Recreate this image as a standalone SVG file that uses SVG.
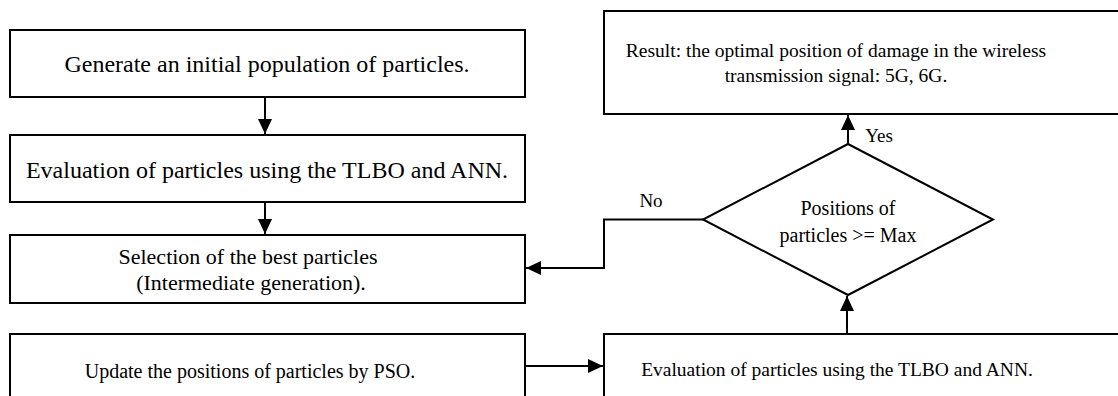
<svg xmlns="http://www.w3.org/2000/svg" width="1118" height="396" viewBox="0 0 1118 396">
<style>
.box{fill:#fff;stroke:#000;stroke-width:2}
.t{font-family:"Liberation Serif","Times New Roman",serif;fill:#000;text-anchor:middle}
.c{fill:none;stroke:#000;stroke-width:2}
</style>
<defs>
<marker id="ah" viewBox="0 0 15 14" refX="15" refY="7" markerWidth="15" markerHeight="14" markerUnits="userSpaceOnUse" orient="auto">
<path d="M0,0 L15,7 L0,14 z" fill="#000"/>
</marker>
</defs>
<rect width="1118" height="396" fill="#fff"/>
<g id="n1"><rect class="box" x="10" y="30" width="515" height="67"/><text class="t" x="267" y="72" font-size="24">Generate an initial population of particles.</text></g>
<g id="n2"><rect class="box" x="10" y="135" width="515" height="67"/><text class="t" x="267" y="178" font-size="24">Evaluation of particles using the TLBO and ANN.</text></g>
<g id="n3"><rect class="box" x="10" y="235" width="515" height="68"/><text class="t" x="248" y="264" font-size="22">Selection of the best particles</text><text class="t" x="251" y="290" font-size="22">(Intermediate generation).</text></g>
<g id="n4"><rect class="box" x="10" y="334" width="515" height="80"/><text class="t" x="250" y="378" font-size="20">Update the positions of particles by PSO.</text></g>
<g id="n5"><rect class="box" x="604" y="334" width="530" height="80"/><text class="t" x="837" y="376" font-size="19.5">Evaluation of particles using the TLBO and ANN.</text></g>
<g id="n6"><rect class="box" x="604" y="11" width="530" height="103"/><text class="t" x="836" y="57" font-size="19.5">Result: the optimal position of damage in the wireless</text><text class="t" x="836" y="82" font-size="19.5">transmission signal: 5G, 6G.</text></g>
<g id="n7"><polygon class="box" points="848,144 993,219.5 848,295 703,219.5"/><text class="t" x="848" y="215" font-size="20">Positions of</text><text class="t" x="848" y="242" font-size="20">particles &gt;= Max</text></g>
<g id="connectors">
<line class="c" x1="265" y1="97" x2="265" y2="134" marker-end="url(#ah)"/>
<line class="c" x1="265" y1="202" x2="265" y2="234" marker-end="url(#ah)"/>
<line class="c" x1="525" y1="366" x2="603" y2="366" marker-end="url(#ah)"/>
<line class="c" x1="847" y1="334" x2="847" y2="296" marker-end="url(#ah)"/>
<line class="c" x1="848" y1="144" x2="848" y2="115" marker-end="url(#ah)"/>
<polyline class="c" points="703,219.5 604,219.5 604,268 526,268" marker-end="url(#ah)"/>
<text class="t" x="651" y="207" font-size="19">No</text>
<text class="t" x="879" y="142" font-size="19">Yes</text>
</g>
</svg>
